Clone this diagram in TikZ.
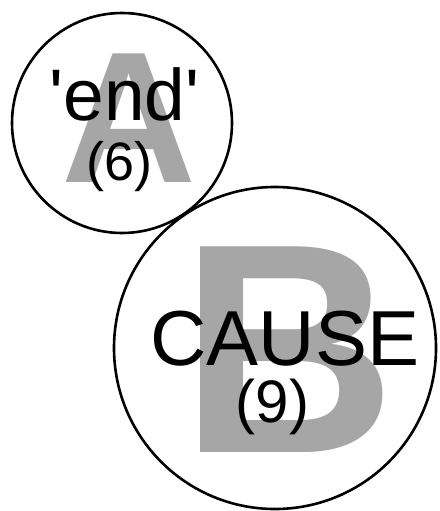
\documentclass[tikz,border=0pt]{standalone}
\usepackage{fontspec}
\setmainfont{Liberation Sans}
\begin{document}
\begin{tikzpicture}[x=1pt,y=-1pt,
  ring/.style={circle,draw=black,line width=2.6pt,inner sep=0pt},
  bigletter/.style={text=letgray,inner sep=0pt,anchor=base,font=\bfseries},
  label/.style={text=black,inner sep=0pt,anchor=base}]
\definecolor{letgray}{HTML}{A6A6A6}
\useasboundingbox (0,0) rectangle (439,511);
% big grey letters
\node[bigletter,font=\fontsize{187}{187}\selectfont\bfseries] (LA) at (129.5,182) {A};
\node[bigletter,font=\fontsize{299}{299}\selectfont\bfseries] (LB) at (288,452) {B};
% circles
\node[ring,minimum size=220pt] (A) at (122,123) {};
\node[ring,minimum size=322pt] (B) at (275,348) {};
% texts
\node[label,font=\fontsize{73}{73}\selectfont] (endt) at (124.5,120) {\textquotesingle end\textquotesingle};
\node[label,font=\fontsize{54}{54}\selectfont] (six) at (119.5,180) {(6)};
\node[label,font=\fontsize{78}{78}\selectfont] (cause) at (285,365) {CAUSE};
\node[label,font=\fontsize{60}{60}\selectfont] (nine) at (272.5,422) {(9)};
\end{tikzpicture}
\end{document}
